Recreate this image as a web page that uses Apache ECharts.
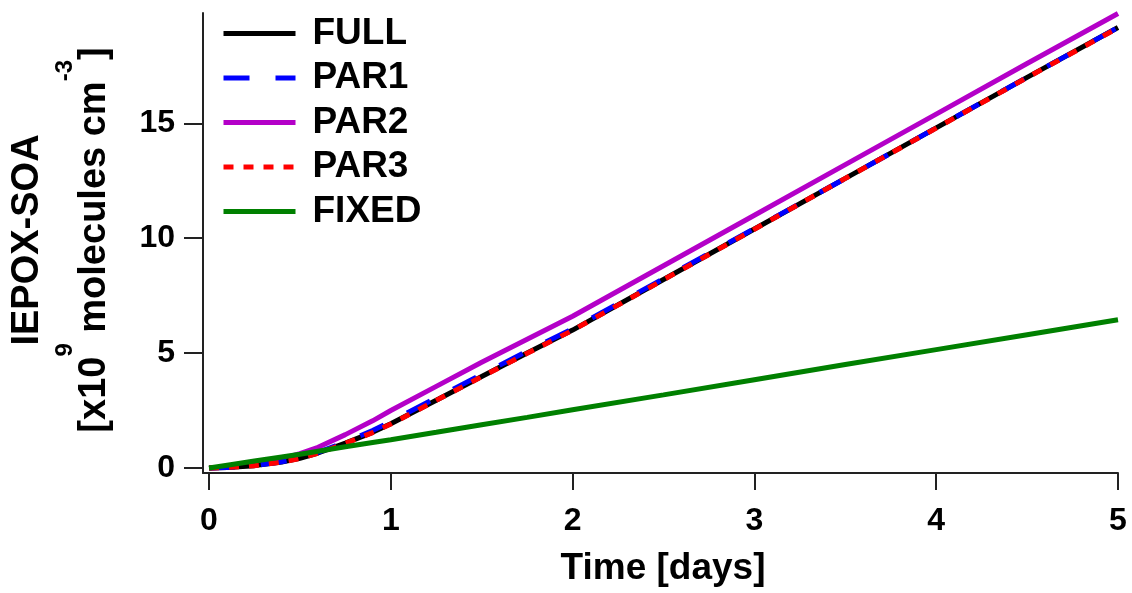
<!DOCTYPE html>
<html>
<head>
<meta charset="utf-8">
<script src="https://cdn.jsdelivr.net/npm/echarts@6/dist/echarts.min.js"></script>
<style>
  html, body { margin: 0; padding: 0; background: #fff; }
  #chart { width: 1132px; height: 593px; }
</style>
</head>
<body>
<div id="chart"></div>
<script>
// ---- data (time in days, IEPOX-SOA in 1e9 molecules cm^-3) ----
const timeDays = [0, 0.1, 0.25, 0.4, 0.5, 0.6, 0.75, 0.9, 1.0, 1.25, 1.5, 1.75, 2.0, 2.5, 3.0, 3.5, 4.0, 4.5, 5.0];
const fullVals  = [0, 0.02, 0.10, 0.26, 0.42, 0.65, 1.08, 1.55, 1.92, 2.95, 3.98, 5.00, 6.00, 8.20, 10.40, 12.60, 14.80, 17.00, 19.17];
const par1Vals  = [0, 0.02, 0.10, 0.27, 0.44, 0.68, 1.13, 1.63, 2.02, 3.05, 4.07, 5.08, 6.06, 8.24, 10.42, 12.60, 14.80, 17.00, 19.17];
const par2Vals  = [0, 0.04, 0.16, 0.40, 0.62, 0.90, 1.45, 2.05, 2.50, 3.55, 4.60, 5.60, 6.60, 8.80, 11.00, 13.20, 15.40, 17.60, 19.78];
const par3Vals  = [0, 0.02, 0.10, 0.25, 0.41, 0.64, 1.07, 1.54, 1.91, 2.94, 3.97, 4.99, 5.99, 8.19, 10.39, 12.60, 14.79, 16.99, 19.15];
const fixedVals = [0, 0.12, 0.30, 0.48, 0.60, 0.73, 0.92, 1.11, 1.23, 1.55, 1.88, 2.20, 2.53, 3.18, 3.84, 4.50, 5.15, 5.80, 6.45];
const legendNames = ['FULL', 'PAR1', 'PAR2', 'PAR3', 'FIXED'];
const xTicks = [0, 1, 2, 3, 4, 5];
const yTicks = [0, 5, 10, 15];

const FONT = '"Liberation Sans", Arial, sans-serif';
const pairs = vals => timeDays.map((t, i) => [t, vals[i]]);

const chart = echarts.init(document.getElementById('chart'), null, { renderer: 'canvas' });

function mkLine(name, vals, color, type) {
  return {
    name: name, type: 'line', data: pairs(vals),
    symbol: 'none', showSymbol: false, smooth: false,
    lineStyle: { color: color, width: 5, type: type },
    itemStyle: { color: color },
    emphasis: { disabled: true }
  };
}

const axisCommon = {
  type: 'value',
  splitLine: { show: false },
  axisLine: { show: true, onZero: false, lineStyle: { color: '#222', width: 2 } }
};

chart.setOption({
  animation: false,
  backgroundColor: '#fff',
  grid: { left: 203, right: 14, top: 13, bottom: 120, containLabel: false },
  xAxis: Object.assign({}, axisCommon, {
    min: -0.033, max: 5,
    axisTick: { show: true, inside: false, length: 17, customValues: xTicks, lineStyle: { color: '#222', width: 2 } },
    axisLabel: { customValues: xTicks, margin: 32, fontSize: 32, fontWeight: 'bold', color: '#000', fontFamily: FONT }
  }),
  yAxis: Object.assign({}, axisCommon, {
    min: -0.22, max: 19.8,
    axisTick: { show: true, inside: false, length: 19, customValues: yTicks, lineStyle: { color: '#222', width: 2 } },
    axisLabel: { customValues: yTicks, margin: 28, fontSize: 32, fontWeight: 'bold', color: '#000', fontFamily: FONT }
  }),
  legend: {
    orient: 'vertical', left: 221, top: 15, padding: 0,
    itemWidth: 72, itemHeight: 20, itemGap: 7.5,
    data: legendNames,
    itemStyle: { opacity: 0 },
    lineStyle: { width: 5 },
    textStyle: { fontSize: 37, fontWeight: 'bold', color: '#000', fontFamily: FONT, lineHeight: 36, padding: [0, 0, 0, 12] }
  },
  series: [
    mkLine('PAR2', par2Vals, '#b400c8', 'solid'),
    mkLine('FULL', fullVals, '#000000', 'solid'),
    mkLine('PAR1', par1Vals, '#0000ff', [26, 26]),
    mkLine('PAR3', par3Vals, '#ff0000', [10, 10]),
    mkLine('FIXED', fixedVals, '#008000', 'solid')
  ],
  graphic: [
    { type: 'text', x: 28, y: 240, rotation: Math.PI / 2,
      style: { text: 'IEPOX-SOA', font: 'bold 38px ' + FONT, fill: '#000', align: 'center', verticalAlign: 'middle' } },
    { type: 'text', x: 95, y: 240, rotation: Math.PI / 2,
      style: {
        text: '{a|[x10}{s|9}{a| molecules cm}{s|-3}{a|]}',
        rich: {
          a: { fontSize: 38, fontWeight: 'bold', fontFamily: FONT, fill: '#000' },
          s: { fontSize: 24, fontWeight: 'bold', fontFamily: FONT, fill: '#000', padding: [0, 0, 60, 0] }
        },
        fill: '#000', align: 'center', verticalAlign: 'middle'
      } },
    { type: 'text', x: 663, y: 569,
      style: { text: 'Time [days]', font: 'bold 37px ' + FONT, fill: '#000', align: 'center', verticalAlign: 'middle' } }
  ]
});
</script>
</body>
</html>
